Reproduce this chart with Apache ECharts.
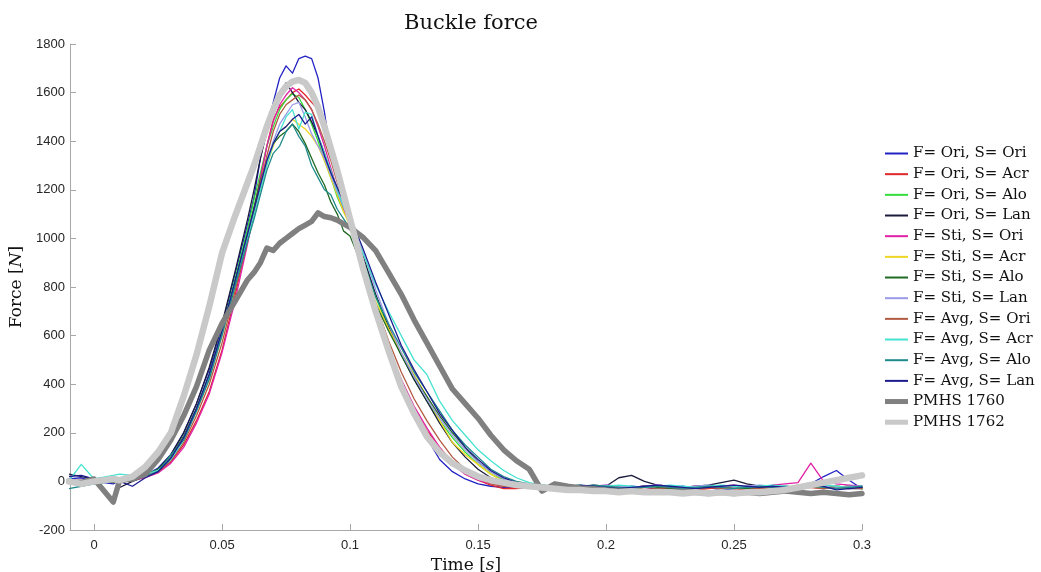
<!DOCTYPE html>
<html>
<head>
<meta charset="utf-8">
<script src="https://cdn.jsdelivr.net/npm/echarts@6/dist/echarts.min.js"></script>
<style>
  html, body { margin: 0; padding: 0; background: #fff; }
  #chart { width: 1041px; height: 572px; }
</style>
</head>
<body>
<div id="chart"></div>
<script>
// Sample times [s], shared by every trace
const timeS = [
  -0.01, -0.005, 0, 0.0075, 0.01, 0.015, 0.02, 0.025, 0.03, 0.035, 0.04, 0.045, 0.05, 0.055, 0.06,
  0.0625, 0.065, 0.0675, 0.07, 0.0725, 0.075, 0.0775, 0.08, 0.0825, 0.085, 0.0875, 0.09, 0.0925, 0.095, 0.0975, 0.1,
  0.105, 0.11, 0.115, 0.12, 0.125, 0.13, 0.135, 0.14, 0.145, 0.15, 0.155, 0.16, 0.165, 0.17,
  0.175, 0.18, 0.185, 0.19, 0.195, 0.2, 0.205, 0.21, 0.215, 0.22, 0.225, 0.23, 0.235, 0.24, 0.245, 0.25,
  0.255, 0.26, 0.265, 0.27, 0.275, 0.28, 0.285, 0.29, 0.295, 0.3
];

// Buckle force [N] per simulation variant
const fOriSOri = [
  10, 15, 0, -10, 5, 10, 25, 55, 110, 200, 320, 460, 640, 850, 1060,
  1170, 1330, 1450, 1560, 1660, 1710, 1680, 1740, 1750, 1740, 1660, 1520, 1340, 1250, 1170, 1080,
  880, 690, 540, 410, 290, 180, 90, 40, 10, -10, -20, -25, -25, -20,
  -25, -20, -30, -25, -20, -25, -30, -20, -25, -30, -25, -20, -30, -25, -35, -30, -25, -30, -20, -25, -30, -10, 20, 45, 5, -30
];
const fOriSAcr = [
  0, -5, 5, 0, -5, 5, 20, 40, 80, 150, 250, 370, 540, 760, 1000,
  1120, 1250, 1380, 1490, 1540, 1570, 1600, 1615, 1590, 1560, 1530, 1470, 1390, 1300, 1200, 1100,
  900, 700, 540, 400, 300, 210, 140, 80, 30, 5, -15, -30, -30, -25,
  -25, -30, -20, -25, -30, -25, -30, -35, -25, -30, -25, -30, -35, -30, -25, -30, -35, -30, -25, -30, -20, -25, -30, -25, -20, -25
];
const fOriSAlo = [
  5, 0, -5, 5, 0, 10, 25, 50, 100, 185, 300, 440, 620, 830, 1040,
  1160, 1270, 1380, 1460, 1530, 1570, 1595, 1580, 1530, 1470, 1400, 1320, 1250, 1170, 1110, 1060,
  920, 760, 630, 520, 420, 330, 250, 180, 120, 70, 30, 5, -10, -15,
  -20, -25, -20, -15, -25, -20, -25, -30, -20, -25, -20, -25, -30, -25, -20, -25, -30, -25, -20, -25, -15, -20, -25, -20, -25, -30
];
const fOriSLan = [
  30, 20, 10, 15, -25, 0, 20, 50, 110, 200, 320, 470, 650, 860, 1080,
  1200, 1330, 1440, 1530, 1600, 1640, 1600, 1560, 1530, 1480, 1420, 1350, 1270, 1190, 1120, 1060,
  930, 770, 640, 520, 420, 330, 240, 160, 100, 50, 15, -5, -15, -20,
  -20, -25, -20, -25, -15, -20, 15, 25, 0, -15, -20, -25, -20, -15, -5, 5, -10, -20, -25, -20, -25, -15, -20, -25, -30, -30
];
const fStiSOri = [
  0, 5, 0, -5, 0, 5, 15, 35, 75, 140, 240, 360, 530, 740, 980,
  1110, 1250, 1380, 1480, 1550, 1590, 1620, 1600, 1570, 1530, 1460, 1380, 1290, 1200, 1120, 1060,
  890, 700, 550, 420, 310, 220, 140, 70, 30, 5, -10, -20, -25, -20,
  -20, -25, -20, -25, -20, -15, -20, -25, -20, -15, -20, -25, -20, -25, -20, -15, -25, -30, -15, -10, -5, 75, 0, -10, -15, -20
];
const fStiSAcr = [
  0, 5, -5, 0, 5, 10, 20, 45, 95, 175, 290, 420, 600, 800, 1000,
  1100, 1200, 1300, 1380, 1440, 1460, 1490, 1470, 1450, 1420, 1380, 1320, 1250, 1180, 1110, 1050,
  900, 740, 630, 530, 440, 350, 250, 160, 110, 70, 30, 0, -15, -20,
  -25, -20, -25, -30, -25, -20, -25, -30, -25, -20, -25, -30, -25, -20, -25, -30, -25, -20, -25, -30, -25, -20, -25, -30, -25, -30
];
const fStiSAlo = [
  5, 0, 5, -5, 0, 10, 25, 50, 100, 185, 300, 440, 620, 820, 1020,
  1130, 1240, 1320, 1390, 1420, 1440, 1470, 1440, 1390, 1330, 1270, 1220, 1150, 1100, 1030, 1010,
  880, 730, 620, 520, 430, 350, 270, 200, 140, 80, 40, 10, -5, -15,
  -20, -25, -20, -25, -20, -25, -30, -25, -20, -25, -30, -25, -30, -25, -20, -25, -30, -25, -20, -25, -20, -15, -20, -25, -20, -25
];
const fStiSLan = [
  0, 5, 0, 0, 5, 10, 20, 45, 95, 180, 295, 430, 610, 810, 1000,
  1110, 1210, 1320, 1400, 1470, 1510, 1550, 1560, 1500, 1430, 1380, 1330, 1260, 1190, 1130, 1070,
  950, 790, 650, 530, 430, 340, 260, 190, 130, 80, 40, 10, -5, -15,
  -20, -15, -20, -25, -20, -15, -20, -25, -20, -15, -20, -25, -20, -15, -20, -25, -20, -15, -20, -25, -20, -15, -20, -25, -20, -20
];
const fAvgSOri = [
  0, 0, 5, 0, -5, 5, 20, 40, 85, 160, 270, 400, 570, 780, 990,
  1100, 1230, 1340, 1440, 1510, 1550, 1570, 1590, 1570, 1530, 1470, 1400, 1320, 1230, 1150, 1080,
  910, 730, 580, 450, 340, 250, 170, 100, 50, 15, -10, -20, -25, -25,
  -25, -30, -20, -30, -25, -35, -25, -30, -20, -30, -25, -30, -35, -25, -30, -20, -25, -30, -25, -35, -30, -25, -30, -20, -25, -30
];
const fAvgSAcr = [
  0, 70, 10, 25, 30, 25, 30, 45, 90, 170, 290, 430, 610, 810, 1000,
  1100, 1200, 1300, 1390, 1440, 1500, 1530, 1450, 1520, 1510, 1420, 1350, 1280, 1200, 1130, 1070,
  940, 810, 700, 600, 500, 440, 330, 250, 190, 130, 85, 45, 15, -5,
  -15, -20, -15, -20, -25, -20, -15, -20, -25, -20, -15, -20, -25, -20, -15, -20, -25, -20, -15, -20, -25, -20, -15, -20, -25, -20
];
const fAvgSAlo = [
  -30, -20, -10, 0, 5, 10, 20, 40, 110, 170, 290, 420, 600, 800, 990,
  1080, 1180, 1280, 1350, 1380, 1440, 1470, 1420, 1380, 1300, 1250, 1200, 1180, 1120, 1080, 1040,
  910, 760, 650, 550, 450, 370, 290, 210, 150, 100, 50, 20, 0, -10,
  -15, -20, -25, -20, -15, -20, -25, -30, -25, -20, -25, -30, -25, -20, -25, -30, -25, -20, -25, -30, -25, -20, -25, -30, -25, -20
];
const fAvgSLan = [
  20, 25, 10, 15, 0, -20, 15, 40, 95, 180, 300, 440, 620, 820, 1020,
  1120, 1220, 1320, 1390, 1440, 1460, 1490, 1510, 1470, 1500, 1420, 1340, 1270, 1210, 1150, 1090,
  960, 820, 690, 560, 460, 370, 280, 210, 140, 90, 45, 15, -5, -15,
  -20, -25, -20, -15, -20, -25, -30, -25, -20, -15, -20, -25, -30, -25, -20, -15, -20, -25, -20, -25, -20, -15, -20, -35, -30, -25
];
// Measured cadaver (PMHS) tests
const pmhs1760 = [
  0, -5, 10, -85, 5, 10, 30, 90, 170, 270, 390, 540, 650, 740, 830,
  860, 900, 960, 950, 980, 1000, 1020, 1040, 1055, 1070, 1105, 1090, 1085, 1075, 1060, 1045,
  1005, 950, 860, 770, 665, 570, 475, 380, 320, 260, 190, 130, 85, 50,
  -40, -10, -20, -27, -30, -35, -40, -40, -45, -40, -45, -40, -45, -50, -45, -50, -45, -50, -45, -40, -45, -50, -45, -50, -55, -50
];
const pmhs1762 = [
  0, -10, 0, 10, 5, 20, 60, 120, 200, 350, 520, 720, 940, 1090, 1230,
  1300, 1380, 1460, 1530, 1590, 1625, 1645, 1652, 1640, 1600, 1540, 1460, 1370, 1280, 1180, 1080,
  880, 700, 540, 390, 280, 185, 120, 75, 45, 20, 5, -5, -15, -20,
  -25, -30, -35, -35, -40, -40, -45, -40, -45, -45, -45, -50, -45, -50, -45, -50, -45, -45, -40, -35, -25, -15, -5, 5, 15, 25
];

const xTicks = [0, 0.05, 0.1, 0.15, 0.2, 0.25, 0.3];

const traces = [
  { name: 'F= Ori, S= Ori', values: fOriSOri, color: '#2323c4', width: 1.3 },
  { name: 'F= Ori, S= Acr', values: fOriSAcr, color: '#e0272a', width: 1.3 },
  { name: 'F= Ori, S= Alo', values: fOriSAlo, color: '#33dd3a', width: 1.3 },
  { name: 'F= Ori, S= Lan', values: fOriSLan, color: '#1b1b3c', width: 1.3 },
  { name: 'F= Sti, S= Ori', values: fStiSOri, color: '#e021a6', width: 1.3 },
  { name: 'F= Sti, S= Acr', values: fStiSAcr, color: '#f0d624', width: 1.3 },
  { name: 'F= Sti, S= Alo', values: fStiSAlo, color: '#1f6b24', width: 1.3 },
  { name: 'F= Sti, S= Lan', values: fStiSLan, color: '#9a9ae8', width: 1.3 },
  { name: 'F= Avg, S= Ori', values: fAvgSOri, color: '#b35a42', width: 1.3 },
  { name: 'F= Avg, S= Acr', values: fAvgSAcr, color: '#45e2d0', width: 1.3 },
  { name: 'F= Avg, S= Alo', values: fAvgSAlo, color: '#1e8a8c', width: 1.3 },
  { name: 'F= Avg, S= Lan', values: fAvgSLan, color: '#1c1c8e', width: 1.3 },
  { name: 'PMHS 1760', values: pmhs1760, color: '#808080', width: 5.5 },
  { name: 'PMHS 1762', values: pmhs1762, color: '#c9c9c9', width: 6.5 }
];

const serif = 'DejaVu Serif';
const sans = 'Liberation Sans';
const axisGray = '#a8a8a8';
const labelColor = '#262626';

const thinIcon = 'path://M0,0H23V2H0Z';
const thickIcon = 'path://M0,0H23V5H0Z';

const chart = echarts.init(document.getElementById('chart'), null, { renderer: 'canvas' });

chart.setOption({
  animation: false,
  backgroundColor: '#ffffff',
  title: {
    text: 'Buckle force',
    left: 466,
    top: 8,
    textAlign: 'center',
    textStyle: { fontFamily: serif, fontSize: 21, fontWeight: 'normal', color: '#111' }
  },
  grid: { left: 70, right: 179, top: 44, bottom: 42, outerBoundsMode: 'none', containLabel: false },
  legend: {
    orient: 'vertical',
    left: 880,
    top: 141,
    itemWidth: 23,
    itemHeight: 14,
    itemGap: 5.67,
    selectedMode: false,
    textStyle: { fontFamily: serif, fontSize: 15, color: '#111' },
    data: traces.map(t => ({ name: t.name, icon: t.width > 2 ? thickIcon : thinIcon }))
  },
  xAxis: {
    type: 'value',
    min: -0.0094,
    max: 0.3,
    name: '{a|Time [}{i|s}{a|]}',
    nameLocation: 'middle',
    nameGap: 20,
    nameTextStyle: {
      rich: {
        a: { fontFamily: serif, fontSize: 17, color: '#111' },
        i: { fontFamily: serif, fontSize: 17, fontStyle: 'italic', color: '#111' }
      }
    },
    axisLine: { show: true, onZero: false, lineStyle: { color: axisGray, width: 1 } },
    axisTick: { show: true, inside: true, length: 6, customValues: xTicks, lineStyle: { color: axisGray } },
    axisLabel: {
      customValues: xTicks,
      formatter: v => String(Math.round(v * 100) / 100),
      color: labelColor, fontFamily: sans, fontSize: 13, margin: 9
    },
    splitLine: { show: false }
  },
  yAxis: {
    type: 'value',
    min: -200,
    max: 1800,
    interval: 200,
    name: '{a|Force [}{i|N}{a|]}',
    nameLocation: 'middle',
    nameGap: 34,
    nameTextStyle: {
      rich: {
        a: { fontFamily: serif, fontSize: 17, color: '#111' },
        i: { fontFamily: serif, fontSize: 17, fontStyle: 'italic', color: '#111' }
      }
    },
    axisLine: { show: true, onZero: false, lineStyle: { color: axisGray, width: 1 } },
    axisTick: { show: true, inside: true, length: 6, lineStyle: { color: axisGray } },
    axisLabel: {
      formatter: v => String(v),
      color: labelColor, fontFamily: sans, fontSize: 13, margin: 5
    },
    splitLine: { show: false }
  },
  series: traces.map(t => ({
    name: t.name,
    type: 'line',
    data: timeS.map((x, i) => [x, t.values[i]]),
    color: t.color,
    showSymbol: false,
    symbol: 'none',
    clip: true,
    lineStyle: { color: t.color, width: t.width, join: 'round', cap: 'round' },
    emphasis: { disabled: true }
  }))
});
</script>
</body>
</html>
